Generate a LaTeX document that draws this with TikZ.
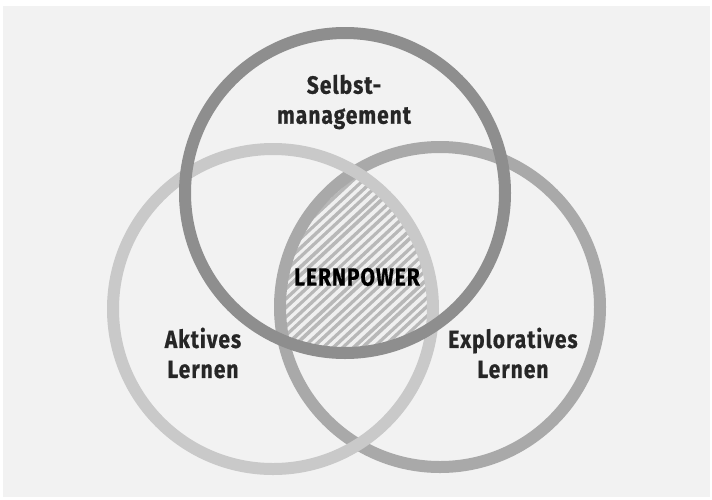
\documentclass[tikz,border=0pt]{standalone}
\usepackage{fontspec}
\setmainfont{Fira Sans}[FakeStretch=0.84,LetterSpace=4,BoldFeatures={FakeBold=0.6}]
\usepackage{xcolor}
\usepackage{tikz}

\definecolor{paper}{HTML}{F2F2F2}
\definecolor{ringdark}{HTML}{8E8E8E}
\definecolor{ringmid}{HTML}{A9A9A9}
\definecolor{ringlight}{HTML}{C9C9C9}
\definecolor{core}{HTML}{B8B8B8}
\definecolor{ink}{HTML}{262626}

\begin{document}
\begin{tikzpicture}[x=1pt,y=-1pt,
  ring/.style={line width=12pt},
  label/.style={font=\fontsize{25}{30}\selectfont\bfseries, text=ink, align=center, inner sep=0pt}]
\useasboundingbox (0,0) rectangle (712,499);
\fill[white] (0,0) rectangle (712,499);
\fill[paper] (3,6) rectangle (710,497);

% centres of the three rings
\coordinate (ctop) at (345,193);
\coordinate (cleft) at (273,309);
\coordinate (cright) at (440,307);

% shared area, hatched
\begin{scope}
  \clip (ctop) circle[radius=160];
  \clip (cleft) circle[radius=160];
  \clip (cright) circle[radius=160];
  \fill[core] (180,150) rectangle (520,400);
  \foreach \i in {-30,...,30}{
    \pgfmathsetmacro{\w}{2+1.8*abs(sin(\i*77))}
    \draw[white, line width=\w pt, opacity=.8] (350+10*\i,420) -- ++(280,-260);
  }
\end{scope}

\draw[ring, ringmid] (cright) circle[radius=160];
\draw[ring, ringlight] (cleft) circle[radius=160];
\draw[ring, ringdark] (ctop) circle[radius=160];

\node[label] (selbst) at (344,102) {Selbst-\\management};
\node[label] (aktiv) at (203,353) {Aktives\\Lernen};
\node[label] (explor) at (513,353) {Exploratives\\Lernen};
\node[label, text=black] (power) at (357,277) {LERNPOWER};
\end{tikzpicture}
\end{document}
